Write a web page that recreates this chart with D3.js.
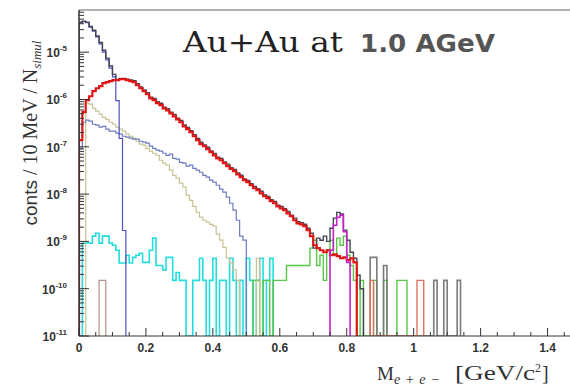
<!DOCTYPE html>
<html><head><meta charset="utf-8">
<script src="https://cdn.jsdelivr.net/npm/d3@7"></script>
<style>body{margin:0;background:#fff}svg{display:block}</style>
</head><body>
<svg id="c" width="570" height="387"></svg>
<script>
// ---------- data (bin width 0.01 GeV/c^2) ----------
const binWidth = 0.01;
const xTickValues = [0, 0.2, 0.4, 0.6, 0.8, 1.0, 1.2, 1.4];
const xTickLabels = ["0", "0.2", "0.4", "0.6", "0.8", "1", "1.2", "1.4"];
const yTickExponents = [-5, -6, -7, -8, -9, -10, -11];

const totalStart = 0;
const totalValues = [4.3e-5,4.5e-5,4.3e-5,3.5e-5,2.9e-5,2.2e-5,1.6e-5,1.1e-5,7.5e-6,5.1e-6,
 3.4e-6,2.6e-6,2.8e-6,2.8e-6,2.7e-6,2.6e-6,2.5e-6,2.15e-6,1.85e-6,1.6e-6,
 1.4e-6,1.12e-6,1.05e-6,9.0e-7,8.3e-7,6.9e-7,6.4e-7,5.4e-7,4.8e-7,4.0e-7,
 3.6e-7,2.9e-7,2.55e-7,2.2e-7,1.8e-7,1.5e-7,1.25e-7,1.1e-7,9.8e-8,8.2e-8,
 7.2e-8,6.0e-8,5.7e-8,4.8e-8,4.3e-8,3.6e-8,3.3e-8,2.8e-8,2.5e-8,2.1e-8,
 1.95e-8,1.65e-8,1.45e-8,1.3e-8,1.15e-8,9.6e-9,8.9e-9,7.6e-9,7.0e-9,5.8e-9,
 5.5e-9,4.9e-9,4.3e-9,3.6e-9,3.1e-9,2.6e-9,2.5e-9,2.3e-9,1.9e-9,1.49e-9,
 7.2e-10,1.17e-9,1.06e-9,1.29e-9,1.0e-9,1.9e-9,3.1e-9,4.1e-9,3.8e-9,1.73e-9,
 1.06e-9,5.9e-10,4.4e-10,1.93e-10,1.0e-10];

const modelStart = 0;
const modelValues = [1.38e-7,5.4e-7,9.7e-7,1.17e-6,1.5e-6,1.73e-6,1.91e-6,2.21e-6,2.32e-6,2.44e-6,
 2.56e-6,2.56e-6,2.69e-6,2.69e-6,2.56e-6,2.44e-6,2.32e-6,2.0e-6,1.73e-6,1.5e-6,
 1.29e-6,1.06e-6,9.7e-7,8.4e-7,7.6e-7,6.5e-7,5.9e-7,5.1e-7,4.4e-7,3.8e-7,
 3.3e-7,2.7e-7,2.36e-7,2.04e-7,1.67e-7,1.38e-7,1.14e-7,1.03e-7,8.9e-8,7.7e-8,
 6.6e-8,5.7e-8,5.2e-8,4.5e-8,3.9e-8,3.4e-8,3.05e-8,2.6e-8,2.28e-8,1.97e-8,
 1.79e-8,1.54e-8,1.33e-8,1.21e-8,1.04e-8,9.0e-9,8.2e-9,7.1e-9,6.4e-9,5.5e-9,
 5.0e-9,4.6e-9,3.9e-9,3.4e-9,2.8e-9,2.4e-9,2.3e-9,2.1e-9,1.73e-9,1.29e-9,
 8.3e-10,7.2e-10,6.5e-10,5.9e-10,6.5e-10,5.1e-10,5.3e-10,4.9e-10,4.4e-10,4.6e-10,
 4.0e-10,4.4e-10,3.6e-10];

const pi0Start = 0;
const pi0Values = [4.2e-5,4.4e-5,4.2e-5,3.4e-5,2.8e-5,2.1e-5,1.5e-5,1.0e-5,6.9e-6,4.6e-6,
 3.0e-6,9.5e-7,1.5e-7,1.7e-9];

const etaStart = 2;
const etaValues = [8.4e-7,8.0e-7,6.5e-7,5.7e-7,4.9e-7,4.2e-7,3.8e-7,3.3e-7,3.0e-7,2.6e-7,
 2.36e-7,2.14e-7,1.85e-7,1.67e-7,1.52e-7,1.31e-7,1.14e-7,1.08e-7,9.3e-8,8.1e-8,
 7.3e-8,6.6e-8,5.2e-8,4.5e-8,4.1e-8,3.2e-8,2.5e-8,2.17e-8,1.7e-8,1.4e-8,
 9.5e-9,7.4e-9,5.5e-9,4.1e-9,3.25e-9,2.8e-9,2.55e-9,2.3e-9,2.1e-9,1.42e-9,
 1.06e-9,7.5e-10,4.4e-10,3.5e-10,2.5e-10,1.5e-10,0,0,0,0,0,4.4e-10];

const deltaStart = 0;
const deltaValues = [9.3e-8,3.3e-7,3.65e-7,3.5e-7,3.0e-7,2.86e-7,2.6e-7,2.7e-7,2.36e-7,2.14e-7,
 2.14e-7,1.94e-7,1.85e-7,1.67e-7,1.6e-7,1.52e-7,1.45e-7,1.45e-7,1.31e-7,1.25e-7,
 1.19e-7,1.03e-7,9.3e-8,8.5e-8,8.1e-8,7.3e-8,6.6e-8,7.0e-8,5.7e-8,5.5e-8,
 4.7e-8,4.5e-8,3.9e-8,4.1e-8,3.5e-8,3.2e-8,2.9e-8,2.5e-8,2.28e-8,1.97e-8,
 1.79e-8,1.54e-8,1.27e-8,1.1e-8,8.6e-9,6.4e-9,4.6e-9,2.8e-9,1.29e-9,1.06e-9];

const cyanStart = 0;
const cyanValues = [0,9.2e-10,9.2e-10,9.2e-10,1.29e-9,1.49e-9,9.2e-10,1.29e-9,1.29e-9,9.2e-10,
 8.3e-10,6.5e-10,3.5e-10,3.5e-10,5.1e-10,3.5e-10,4.6e-10,5.1e-10,5.6e-10,3.6e-10,
 3.6e-10,6.5e-10,1.17e-9,3.1e-10,3.1e-10,2.5e-10,4.6e-10,4.6e-10,1.5e-10,2.2e-10,
 1.5e-10,1.5e-10,0,0,1.5e-10,1.5e-10,4.4e-10,1.5e-10,0,1.5e-10,
 4.4e-10,0,1.5e-10,1.5e-10,0,4.4e-10,1.5e-10,0,1.5e-10,0,
 4.4e-10,1.5e-10,0,1.5e-10,4.4e-10,0,1.5e-10,4.4e-10];

const greenStart = 52;
const greenValues = [1.5e-10,1.5e-10,0,1.5e-10,1.5e-10,0,1.5e-10,1.5e-10,1.5e-10,1.5e-10,
 3.1e-10,3.1e-10,3.1e-10,3.1e-10,3.1e-10,3.1e-10,3.1e-10,7.2e-10,1.06e-9,3.1e-10,
 5.1e-10,1.5e-10,6.5e-10,1.06e-9,5.1e-10,1.17e-9,8.3e-10,1.29e-9,5.1e-10,3.1e-10,
 1.5e-10,0,1.5e-10,0,0,0,1.5e-10,0,0,1.5e-10,
 0,0,0,1.5e-10,1.5e-10,1.5e-10];

const omegaStart = 75;
const omegaValues = [6.5e-10,2.2e-9,3.25e-9,3.6e-9,1.6e-9,3.6e-10];

const greyStart = 87;
const greyValues = [4.6e-10,4.6e-10,0,0,3.1e-10,0,0,0,0,0,0,0,0,0,0,0,0,0,0,1.5e-10,0,0,1.5e-10,0,0,0,1.5e-10];

const salmonStart = 87;
const salmonValues = [1.5e-10,0,0,0,0,0,0,0,0,0,0,0,0,0,1.5e-10,1.5e-10];

const brownStart = 6;
const brownValues = [1.5e-10,1.5e-10];

// ---------- drawing ----------
const svg = d3.select("#c");
const yMin = 1e-11, yMax = 7.8e-5;
const x = d3.scaleLinear().domain([0, 1.5]).range([79, 581]);
const y = d3.scaleLog().domain([yMin, yMax]).range([336, 10]);

svg.append("defs").append("clipPath").attr("id","pc")
  .append("rect").attr("x",79).attr("y",10).attr("width",500).attr("height",326);

function histPath(start, values) {
  const yv = v => y(Math.max(v || 0, yMin));
  let d = `M${x(start*binWidth)},${y(yMin)}`;
  values.forEach((v, i) => {
    const x0 = x((start+i)*binWidth), x1 = x((start+i+1)*binWidth);
    d += `L${x0},${yv(v)}L${x1},${yv(v)}`;
  });
  d += `L${x((start+values.length)*binWidth)},${y(yMin)}`;
  return d;
}

const g = svg.append("g").attr("clip-path","url(#pc)");
const series = [
  {s: cyanStart, v: cyanValues, c: "#22dede", w: 1.6},
  {s: greenStart, v: greenValues, c: "#55c845", w: 1.4},
  {s: greyStart, v: greyValues, c: "#7a7a7a", w: 1.6},
  {s: salmonStart, v: salmonValues, c: "#e07060", w: 1.4},
  {s: brownStart, v: brownValues, c: "#b89090", w: 1.2},
  {s: etaStart, v: etaValues, c: "#c9c394", w: 1.2},
  {s: deltaStart, v: deltaValues, c: "#6d7cc2", w: 1.2},
  {s: pi0Start, v: pi0Values, c: "#5050c0", w: 1.2},
  {s: totalStart, v: totalValues, c: "#454555", w: 1.4},
  {s: modelStart, v: modelValues, c: "#e01515", w: 2.2},
  {s: omegaStart, v: omegaValues, c: "#c820c8", w: 1.6}
];
series.forEach(se => {
  g.append("path").attr("d", histPath(se.s, se.v))
    .attr("fill","none").attr("stroke", se.c).attr("stroke-width", se.w);
});

// frame
svg.append("line").attr("x1",79).attr("x2",570).attr("y1",10).attr("y2",10).attr("stroke","#999").attr("stroke-width",1.5);
svg.append("line").attr("x1",79).attr("x2",79).attr("y1",10).attr("y2",336).attr("stroke","#333").attr("stroke-width",1.5);
svg.append("line").attr("x1",79).attr("x2",570).attr("y1",336).attr("y2",336).attr("stroke","#333").attr("stroke-width",1.2);

// ticks
const axG = svg.append("g").attr("stroke","#333").attr("stroke-width",1);
for (let e = -11; e <= -5; e++) {
  for (let m = 1; m <= 9; m++) {
    const v = m * Math.pow(10, e);
    if (v > yMax) continue;
    const L = m === 1 ? 10 : 5;
    axG.append("line").attr("x1",79).attr("x2",79+L).attr("y1",y(v)).attr("y2",y(v));
  }
}
d3.range(0, 1.5001, 0.05).forEach((t, i) => {
  const major = i % 4 === 0;
  axG.append("line").attr("x1",x(t)).attr("x2",x(t)).attr("y1",336).attr("y2",336-(major?8:4));
});

// tick labels
yTickExponents.forEach(e => {
  const t = svg.append("text").attr("x",67).attr("y",y(Math.pow(10,e))+5)
    .attr("text-anchor","end").attr("font-family","Liberation Sans, Arial, sans-serif")
    .attr("font-weight","bold").attr("font-size",12).attr("fill","#333");
  t.append("tspan").text("10");
  t.append("tspan").attr("dy",-6).attr("font-size",8).text(String(e));
});
xTickValues.forEach((t, i) => {
  svg.append("text").attr("x", x(t)).attr("y", 352).attr("text-anchor","middle")
    .attr("font-family","Liberation Sans, Arial, sans-serif").attr("font-weight","bold")
    .attr("font-size",12).attr("fill","#333").text(xTickLabels[i]);
});

// title
svg.append("text").attr("x",183).attr("y",52).attr("font-family","DejaVu Serif, serif")
  .attr("font-size",27).attr("fill","#222").attr("textLength",160).attr("lengthAdjust","spacingAndGlyphs").text("Au+Au at");
svg.append("text").attr("x",360).attr("y",52).attr("font-family","DejaVu Sans, Verdana, sans-serif")
  .attr("font-weight","bold").attr("font-size",24).attr("fill","#555").attr("textLength",135)
  .attr("lengthAdjust","spacingAndGlyphs").text("1.0 AGeV");

// y axis title
const yt = svg.append("text").attr("transform","translate(37,133) rotate(-90)").attr("text-anchor","middle")
  .attr("font-size",20).attr("fill","#333").attr("font-family","Liberation Serif, serif");
yt.append("tspan").attr("font-family","Liberation Sans, Arial, sans-serif").attr("font-size",19).text("conts");
yt.append("tspan").text(" / 10 MeV / N");
yt.append("tspan").attr("font-style","italic").attr("font-size",13).attr("dy",4).text("simul");

// x axis title
const xt = svg.append("text").attr("x",377).attr("y",380).attr("font-family","Liberation Serif, serif")
  .attr("font-size",19).attr("fill","#333");
xt.append("tspan").text("M");
xt.append("tspan").attr("font-size",14).attr("font-style","italic").attr("dy",4).attr("textLength",46).text("e+e\u2212");
const xt2 = svg.append("text").attr("x",455).attr("y",380).attr("font-family","Liberation Serif, serif")
  .attr("font-size",20).attr("fill","#333");
xt2.append("tspan").attr("textLength",80).attr("lengthAdjust","spacingAndGlyphs").text("[GeV/c");
xt2.append("tspan").attr("font-size",12).attr("dy",-8).text("2");
xt2.append("tspan").attr("dy",8).attr("dx",1).text("]");
</script>
</body></html>
